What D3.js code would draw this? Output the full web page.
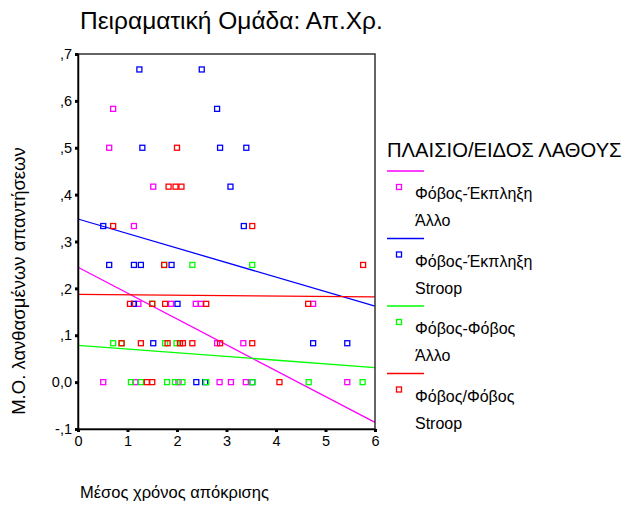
<!DOCTYPE html>
<html><head><meta charset="utf-8">
<script src="https://cdn.jsdelivr.net/npm/d3@7"></script>
<style>body{margin:0;background:#fff;}svg{display:block;font-family:"Liberation Sans",Arial,sans-serif;}</style>
</head><body>
<script>
const title = "Πειραματική Ομάδα: Απ.Χρ.";
const xTitle = "Μέσος χρόνος απόκρισης";
const yTitle = "Μ.Ο. λανθασμένων απαντήσεων";
const legendTitle = "ΠΛΑΙΣΙΟ/ΕΙΔΟΣ ΛΑΘΟΥΣ";
const seriesNames = [["Φόβος-Έκπληξη","Άλλο"],["Φόβος-Έκπληξη","Stroop"],["Φόβος-Φόβος","Άλλο"],["Φόβος/Φόβος","Stroop"]];
const seriesColors = ["#ff00ff","#0000ff","#00ff00","#ff0000"];
const xTicks = [0,1,2,3,4,5,6];
const yTicks = [-0.1,0,0.1,0.2,0.3,0.4,0.5,0.6,0.7];
const yTickLabels = ["-,1","0,0",",1",",2",",3",",4",",5",",6",",7"];
// [x, y] points per series
const magentaPts = [[0.71,0.583],[0.63,0.5],[1.52,0.417],[1.13,0.333],
  [1.22,0.167],[1.88,0.167],[2.38,0.167],[2.48,0.167],[4.75,0.167],
  [2.81,0.083],[3.34,0.083],
  [0.51,0],[1.16,0],[2.03,0],[2.86,0],[3.09,0],[3.39,0],[5.44,0]];
const bluePts = [[1.24,0.667],[2.5,0.667],[2.81,0.583],[1.30,0.5],[2.87,0.5],[3.40,0.5],
  [3.08,0.417],[0.51,0.333],[3.35,0.333],[0.63,0.25],[1.13,0.25],[1.27,0.25],[1.89,0.25],
  [1.13,0.167],[2.01,0.167],[1.52,0.083],[4.75,0.083],[5.44,0.083],
  [2.39,0],[2.57,0],[3.52,0]];
const greenPts = [[2.31,0.25],[3.52,0.25],[1.74,0.25],[1.50,0.167],
  [0.71,0.083],[0.88,0.083],[1.76,0.083],[1.99,0.083],
  [1.07,0],[1.27,0],[1.80,0],[1.96,0],[2.11,0],[2.59,0],[3.52,0],[4.66,0],[5.75,0]];
const redPts = [[2.0,0.5],[1.83,0.417],[1.97,0.417],[2.09,0.417],[0.71,0.333],[3.52,0.333],
  [1.74,0.25],[5.76,0.25],[1.05,0.167],[1.50,0.167],[1.76,0.167],[2.59,0.167],[4.65,0.167],
  [0.88,0.083],[1.27,0.083],[1.81,0.083],[2.06,0.083],[2.12,0.083],[2.31,0.083],[2.87,0.083],[3.52,0.083],
  [1.39,0],[1.50,0],[4.07,0]];
const seriesPoints = [magentaPts, bluePts, greenPts, redPts];
// fitted lines: [value at x=0, value at x=6]
const fitLines = [[0.245,-0.086],[0.348,0.162],[0.0785,0.031],[0.187,0.182]];

const W=627,H=507;
const svg=d3.select("body").append("svg").attr("width",W).attr("height",H);
const L=78,R=375,T=54,B=429;
const x=d3.scaleLinear().domain([0,6]).range([L,R]);
const y=d3.scaleLinear().domain([-0.1,0.7]).range([B,T]);

svg.append("text").attr("x",80).attr("y",29).attr("font-size",24.5).attr("fill","#000").text(title);

const plot=svg.append("g");
fitLines.forEach((f,i)=>{
  plot.append("line").attr("x1",x(0)).attr("y1",y(f[0])).attr("x2",x(6)).attr("y2",y(f[1]))
    .attr("stroke",seriesColors[i]).attr("stroke-width",1.3);
});
seriesPoints.forEach((pts,i)=>{
  plot.selectAll(null).data(pts).enter().append("rect")
    .attr("x",d=>x(d[0])-2.5).attr("y",d=>y(d[1])-2.5).attr("width",5).attr("height",5)
    .attr("fill","none").attr("stroke",seriesColors[i]).attr("stroke-width",1.3);
});
svg.append("rect").attr("x",L).attr("y",T).attr("width",R-L).attr("height",B-T)
  .attr("fill","none").attr("stroke","#333").attr("stroke-width",1.5);

const yAxis=d3.axisLeft(y).tickValues(yTicks).tickSize(3).tickFormat((d,i)=>yTickLabels[i]);
const ga=svg.append("g").attr("transform",`translate(${L},0)`).call(yAxis);
ga.select(".domain").attr("stroke","#000").attr("stroke-width",1.5);
ga.selectAll(".tick line").attr("stroke","#000").attr("stroke-width",3);
ga.selectAll(".tick text").attr("font-size",14.5).attr("font-family","Liberation Sans, Arial, sans-serif").attr("fill","#000").attr("x",-6);

const xAxis=d3.axisBottom(x).tickValues(xTicks).tickSize(3).tickFormat(d3.format("d"));
const gb=svg.append("g").attr("transform",`translate(0,${B})`).call(xAxis);
gb.select(".domain").attr("stroke","#000").attr("stroke-width",1.5);
gb.selectAll(".tick line").attr("stroke","#000").attr("stroke-width",3);
gb.selectAll(".tick text").attr("font-size",14.5).attr("font-family","Liberation Sans, Arial, sans-serif").attr("fill","#000").attr("y",7);

svg.append("text").attr("transform","translate(25,281) rotate(-90)").attr("text-anchor","middle")
  .attr("font-size",18.5).text(yTitle);
svg.append("text").attr("x",80).attr("y",498).attr("font-size",16.5).text(xTitle);

svg.append("text").attr("x",387).attr("y",157).attr("font-size",20.2).text(legendTitle);
seriesNames.forEach((nm,i)=>{
  const y0=171+i*67.5;
  svg.append("line").attr("x1",387).attr("x2",424).attr("y1",y0).attr("y2",y0)
    .attr("stroke",seriesColors[i]).attr("stroke-width",1.3);
  svg.append("rect").attr("x",399-2.5).attr("y",y0+16-2.5).attr("width",5).attr("height",5)
    .attr("fill","none").attr("stroke",seriesColors[i]).attr("stroke-width",1.3);
  svg.append("text").attr("x",415).attr("y",y0+28).attr("font-size",16).text(nm[0]);
  svg.append("text").attr("x",415).attr("y",y0+55).attr("font-size",16).text(nm[1]);
});
</script>
</body></html>
